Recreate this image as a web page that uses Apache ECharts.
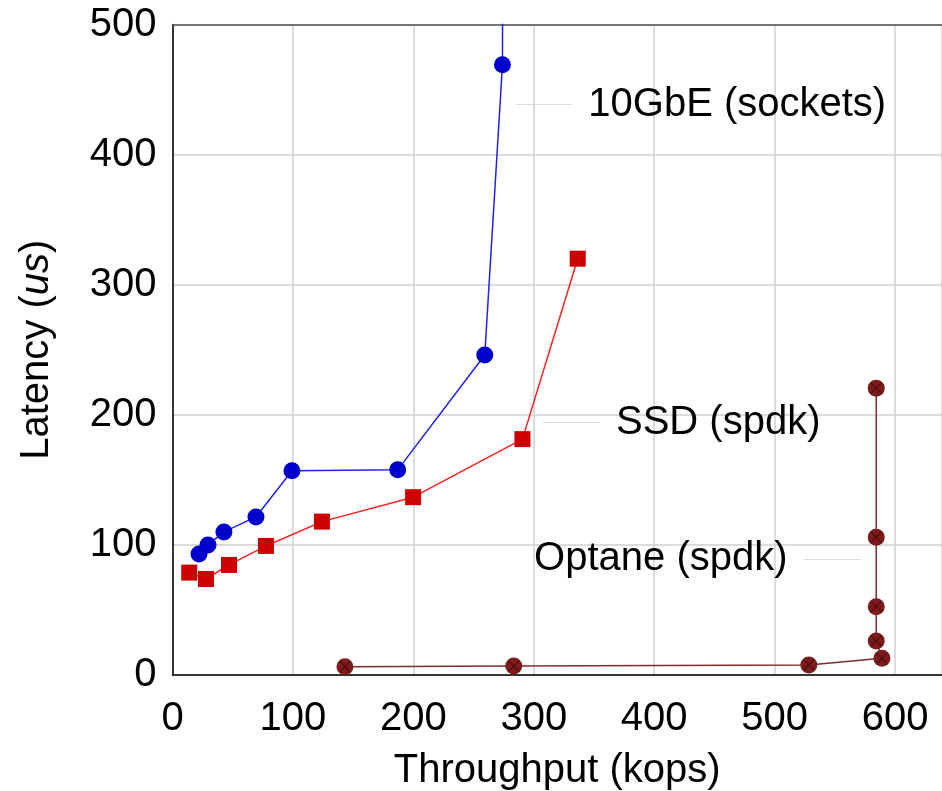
<!DOCTYPE html>
<html>
<head>
<meta charset="utf-8">
<script src="https://cdn.jsdelivr.net/npm/echarts@6/dist/echarts.min.js"></script>
<style>
  html, body { margin: 0; padding: 0; background: #fff; }
  #chart { width: 942px; height: 791px; }
</style>
</head>
<body>
<div id="chart"></div>
<script>
// 10GbE (sockets)
var gbeX = [22, 29.5, 42.7, 69.3, 99.2, 187, 259.3, 274, 275];
var gbeY = [93, 100, 110, 121.5, 157, 157.7, 246, 469, 900];
// SSD (spdk)
var ssdX = [13.9, 27.8, 46.9, 77.6, 124.1, 199.8, 290.6, 336.5];
var ssdY = [78.7, 73.8, 84.6, 99.2, 117.9, 136.7, 181.3, 320];
// Optane (spdk)
var optX = [143.2, 283.4, 528.4, 589.1, 584.4, 584.4, 584.4, 584.4];
var optY = [6.4, 6.9, 7.7, 12.8, 26.2, 52.5, 105.9, 220.5];

var xTicks = [0, 100, 200, 300, 400, 500, 600];
var yTicks = [0, 100, 200, 300, 400, 500];

// label pins: [x start, x end, y]
var gbePin = [285, 332, 438.5];
var ssdPin = [307.5, 355, 194];
var optPin = [571.5, 524, 89];

var FONT = 'Liberation Sans';

function pairs(xs, ys) {
  return xs.map(function (x, i) { return [x, ys[i]]; });
}

function pin(p, text) {
  return {
    silent: true,
    symbol: 'none',
    lineStyle: { color: '#dcdcdc', width: 1.2, type: 'solid' },
    label: {
      show: true, position: 'end', distance: 16,
      formatter: text, fontSize: 40, fontFamily: FONT, color: '#000'
    },
    data: [[{ coord: [p[0], p[2]] }, { coord: [p[1], p[2]] }]]
  };
}

var crossPath = 'path://M0,1.6 L1.6,0 L10,8.4 L18.4,0 L20,1.6 L11.6,10 L20,18.4 L18.4,20 L10,11.6 L1.6,20 L0,18.4 L8.4,10 Z';

var chart = echarts.init(document.getElementById('chart'));
chart.setOption({
  animation: false,
  backgroundColor: '#fff',
  textStyle: { fontFamily: FONT },
  grid: { left: 172.5, right: 0, top: 24.5, bottom: 116, outerBoundsMode: 'none', containLabel: false },
  xAxis: [{
    type: 'value', min: 0, max: 639, interval: 100,
    name: 'Throughput (kops)', nameLocation: 'middle', nameGap: 76,
    nameTextStyle: { fontSize: 40, color: '#000', fontFamily: FONT },
    axisLine: { show: true, lineStyle: { color: '#000', width: 1.5 } },
    axisTick: { show: false },
    axisLabel: {
      fontSize: 40, color: '#000', margin: 24, showMaxLabel: false,
      formatter: function (v) { return xTicks.indexOf(v) >= 0 ? v : ''; }
    },
    splitLine: { show: true, lineStyle: { color: '#cfcfcf', width: 1.5 } }
  }, {
    type: 'value', position: 'top', min: 0, max: 639,
    axisLine: { show: true, lineStyle: { color: '#555', width: 1.5 } },
    axisTick: { show: false }, axisLabel: { show: false }, splitLine: { show: false }
  }],
  yAxis: {
    type: 'value', min: 0, max: 500, interval: 100,
    name: 'Latency ({i|us})', nameLocation: 'middle', nameGap: 116,
    nameTextStyle: {
      fontSize: 40, color: '#000', fontFamily: FONT,
      rich: { i: { fontSize: 40, fontStyle: 'italic', fontFamily: FONT, color: '#000' } }
    },
    axisLine: { show: true, lineStyle: { color: '#000', width: 1.5 } },
    axisTick: { show: false },
    axisLabel: {
      fontSize: 40, color: '#000', margin: 16,
      formatter: function (v) { return yTicks.indexOf(v) >= 0 ? v : ''; }
    },
    splitLine: { show: true, lineStyle: { color: '#cfcfcf', width: 1.5 } }
  },
  series: [{
    name: '10GbE (sockets)', type: 'line', clip: true,
    data: pairs(gbeX, gbeY),
    symbol: 'circle', symbolSize: 17,
    lineStyle: { color: '#1f1fff', width: 1.5 },
    itemStyle: { color: '#0000cc' },
    markLine: pin(gbePin, '10GbE (sockets)')
  }, {
    name: 'SSD (spdk)', type: 'line', clip: true,
    data: pairs(ssdX, ssdY),
    symbol: 'rect', symbolSize: 16,
    lineStyle: { color: '#ff1f1f', width: 1.5 },
    itemStyle: { color: '#cc0000' },
    markLine: pin(ssdPin, 'SSD (spdk)')
  }, {
    name: 'Optane (spdk)', type: 'line', clip: true,
    data: pairs(optX, optY),
    symbol: 'circle', symbolSize: 17,
    lineStyle: { color: '#7f2b2b', width: 1.5 },
    itemStyle: { color: '#7a1c1c' },
    markLine: pin(optPin, 'Optane (spdk)')
  }, {
    name: 'Optane marks', type: 'scatter', clip: true,
    data: pairs(optX, optY),
    symbol: crossPath, symbolSize: 11, silent: true, z: 5,
    itemStyle: { color: '#4a0808' }
  }]
});
</script>
</body>
</html>
